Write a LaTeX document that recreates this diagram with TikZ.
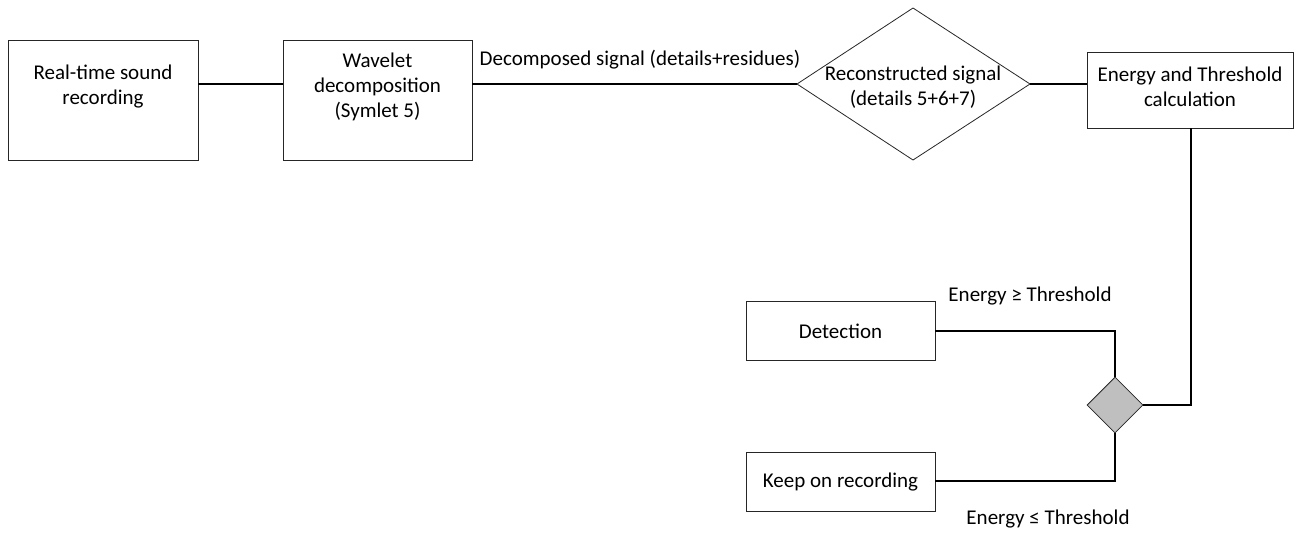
\documentclass[tikz,border=0pt]{standalone}
\usepackage{fontspec}
\setmainfont{Carlito}
\usetikzlibrary{shapes.geometric}
\begin{document}
\begin{tikzpicture}[x=1pt,y=-1pt,
  every node/.style={font=\fontsize{21}{25}\selectfont},
  box/.style={draw=black!85,line width=0.8pt,inner sep=0pt},
  txt/.style={align=center,inner sep=0pt},
  conn/.style={draw=black,line width=1.3pt},
  lbl/.style={inner sep=0pt}]
\useasboundingbox (0,0) rectangle (1296,536);
\node[box,minimum width=190pt,minimum height=120pt] (rec) at (103,100) {};
\node[txt] (rect) at (103,87) {Real-time sound\\recording};
\node[box,minimum width=189pt,minimum height=120pt] (wav) at (377.5,100) {};
\node[txt] (wavt) at (377.5,87) {Wavelet\\decomposition\\(Symlet 5)};
\draw[draw=black!85,line width=0.8pt,fill=white] (797,84) -- (913,8) -- (1030,84) -- (913,160) -- cycle;
\node[txt] (rcs) at (913,87) {Reconstructed signal\\(details 5+6+7)};
\coordinate (dl) at (797,84);
\coordinate (dr) at (1030,84);
\node[box,minimum width=206pt,minimum height=76pt] (ene) at (1190,90) {};
\node[txt] (enet) at (1190,87) {Energy and Threshold\\calculation};
\node[box,minimum width=189pt,minimum height=59pt] (det) at (840.5,330.5) {};
\node[txt] (dett) at (840.5,331.5) {Detection};
\node[box,minimum width=189pt,minimum height=59pt] (kor) at (840.5,481.5) {};
\node[txt] (kort) at (840.5,482.5) {Keep on recording};
\node[diamond,draw=black!85,line width=0.8pt,fill=black!25,minimum width=56pt,minimum height=56pt,inner sep=0pt] (dec) at (1115,405) {};
\draw[conn] (rec.east |- 0,84) -- (wav.west |- 0,84);
\draw[conn] (wav.east |- 0,84) -- (dl);
\draw[conn] (dr) -- (ene.west |- 0,84);
\draw[conn] (ene.south -| 1191,0) -- (1191,405) -- (dec.east);
\draw[conn] (det.east |- 0,331) -- (1115,331) -- (dec.north);
\draw[conn] (kor.east |- 0,481) -- (1115,481) -- (dec.south);
\node[lbl] (l1) at (640,60) {Decomposed signal (details+residues)};
\node[lbl] (l2) at (1030,296) {Energy ≥ Threshold};
\node[lbl] (l3) at (1048,519) {Energy ≤ Threshold};
\end{tikzpicture}
\end{document}
